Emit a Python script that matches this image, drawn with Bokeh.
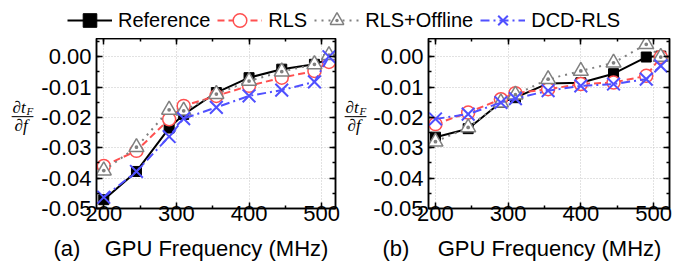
from bokeh.plotting import figure
from bokeh.models import (Range1d, LinearAxis, Legend, LegendItem, SingleIntervalTicker,
                          PrintfTickFormatter)
from bokeh.core.properties import value
from bokeh.layouts import column, row
from bokeh.embed import file_html
from bokeh.resources import INLINE

freq = [200, 245, 290, 310, 355, 400, 445, 490, 510]

ref_a = [-0.0471, -0.0378, -0.0235, -0.0190, -0.0118, -0.0069, -0.0041, -0.0025, -0.0008]
rls_a = [-0.0360, -0.0310, -0.0206, -0.0162, -0.0129, -0.0096, -0.0069, -0.0047, -0.0017]
off_a = [-0.0375, -0.0298, -0.0175, -0.0178, -0.0123, -0.0080, -0.0049, -0.0025, 0.0005]
dcd_a = [-0.0463, -0.0378, -0.0263, -0.0204, -0.0167, -0.0129, -0.0110, -0.0083, 0.0000]

ref_b = [-0.0265, -0.0237, -0.0150, -0.0135, -0.0088, -0.0086, -0.0056, -0.0001, 0.0002]
rls_b = [-0.0222, -0.0184, -0.0140, -0.0120, -0.0107, -0.0090, -0.0085, -0.0063, -0.0001]
off_b = [-0.0280, -0.0233, -0.0151, -0.0125, -0.0074, -0.0047, -0.0020, 0.0041, -0.0001]
dcd_b = [-0.0205, -0.0189, -0.0151, -0.0138, -0.0112, -0.0096, -0.0090, -0.0074, -0.0030]

series_names = ["Reference", "RLS", "RLS+Offline", "DCD-RLS"]
panel_tags = ["(a)", "(b)"]
x_title = "GPU Frequency (MHz)"

FONT = "Liberation Sans"
SERIF = "Liberation Serif"
RED = "#ff5050"
BLUE = "#5050ff"
GRAY = "#808080"

styles = [
    dict(color="black", dash="solid", marker="square", size=10, fill="black", mlw=1),
    dict(color=RED, dash="7 4", marker="circle", size=13, fill="white", mlw=1.5),
    dict(color=GRAY, dash="2 5", marker="triangle_dot", size=15, fill="white", mlw=1.5),
    dict(color=BLUE, dash="9 4 2 4", marker="x", size=18, fill=None, mlw=2),
]


def draw_series(p, xs, ys, st):
    l = p.line(xs, ys, line_color=st["color"], line_width=2, line_dash=st["dash"])
    s = p.scatter(xs, ys, marker=st["marker"], size=st["size"], line_color=st["color"],
                  fill_color=st["fill"], line_width=st["mlw"])
    return l, s


def blank_fig(w, h):
    f = figure(width=w, height=h, x_range=Range1d(0, w), y_range=Range1d(0, h),
               toolbar_location=None, output_backend="svg", min_border=0, title=None,
               x_axis_location=None, y_axis_location=None, outline_line_color=None)
    f.grid.visible = False
    return f


def make_panel(data, xr, w, bl, br):
    p = figure(width=w, height=195, x_range=Range1d(*xr), y_range=Range1d(-0.05, 0.006),
               toolbar_location=None, output_backend="svg",
               min_border_left=bl, min_border_right=br, min_border_top=0,
               min_border_bottom=25, outline_line_color="black", outline_line_width=1.5)
    for ys, st in zip(data, styles):
        draw_series(p, freq, ys, st)

    xt = SingleIntervalTicker(interval=100, num_minor_ticks=2)
    yt = SingleIntervalTicker(interval=0.01, num_minor_ticks=2)
    p.xaxis.ticker = xt
    p.yaxis.ticker = yt
    p.xgrid.ticker = xt
    p.ygrid.ticker = yt
    p.grid.grid_line_color = "#c4c4c4"
    p.grid.grid_line_dash = "1 2"
    p.grid.grid_line_width = 1
    p.yaxis.formatter = PrintfTickFormatter(format="%.2f")

    for ax in p.xaxis + p.yaxis:
        ax.axis_line_width = 1.5
        ax.major_tick_in = 6
        ax.major_tick_out = 0
        ax.minor_tick_in = 3
        ax.minor_tick_out = 0
        ax.major_tick_line_width = 1.5
        ax.minor_tick_line_width = 1.5
        ax.major_label_text_font = FONT
        ax.major_label_text_font_size = "22px"
        ax.major_label_text_color = "black"
    p.xaxis.major_label_standoff = -3
    p.yaxis.major_label_standoff = 5

    for loc, tk in (("above", xt), ("right", yt)):
        ax = LinearAxis(ticker=tk, major_label_text_font_size="0px", major_label_standoff=0,
                        major_label_text_color=None,
                        axis_line_width=1.5, major_tick_in=6, major_tick_out=0,
                        minor_tick_in=3, minor_tick_out=0,
                        major_tick_line_width=1.5, minor_tick_line_width=1.5)
        p.add_layout(ax, loc)
    return p


def ylabel_fig(w, dx):
    f = blank_fig(w, 195)
    f.text(x=[12 + dx], y=[116], text=["\u2202t"], text_font=value(SERIF),
           text_font_style="italic", text_font_size="17px", text_align="left",
           text_baseline="middle", text_color="black")
    f.text(x=[26 + dx], y=[112], text=["F"], text_font=value(SERIF),
           text_font_style="italic", text_font_size="11px", text_align="left",
           text_baseline="middle", text_color="black")
    f.text(x=[22 + dx], y=[105], text=["\u2500\u2500\u2500"], text_font=value("DejaVu Sans"),
           text_font_size="12px", text_align="center", text_baseline="middle",
           text_color="black")
    f.text(x=[14 + dx], y=[95], text=["\u2202f"], text_font=value(SERIF),
           text_font_style="italic", text_font_size="17px", text_align="left",
           text_baseline="middle", text_color="black")
    return f


ya = ylabel_fig(36, 0)
pa = make_panel([ref_a, rls_a, off_a, dcd_a], (190, 519), 304, 60, 5)
yb = ylabel_fig(30, -7)
pb = make_panel([ref_b, rls_b, off_b, dcd_b], (190.4, 522), 310, 58, 11)

# legend strip
lf = blank_fig(680, 38)
nan = float("nan")
items = []
for name, st in zip(series_names, styles):
    l, s = draw_series(lf, [nan], [nan], st)
    items.append(LegendItem(label=name, renderers=[l, s]))
legend = Legend(items=items, orientation="horizontal", location=(67, 1),
                glyph_width=45, glyph_height=34, label_standoff=6, spacing=7,
                padding=0, margin=0, border_line_color=None, background_fill_alpha=0,
                label_text_font=FONT, label_text_font_size="20px", label_height=20,
                label_text_color="black")
lf.add_layout(legend)

# bottom strip: panel tags and axis titles
bf = blank_fig(680, 29)
bf.text(x=[53, 382], y=[13.8, 13.8], text=panel_tags, text_font=value(FONT),
        text_font_size="22px", text_align="left", text_baseline="middle",
        text_color="black")
bf.text(x=[216, 549], y=[13.8, 13.8], text=[x_title, x_title], text_font=value(FONT),
        text_font_size="22px", text_align="center", text_baseline="middle",
        text_color="black")

layout = column(lf, row(ya, pa, yb, pb), bf)
open("out.html", "w").write(file_html(layout, INLINE))
